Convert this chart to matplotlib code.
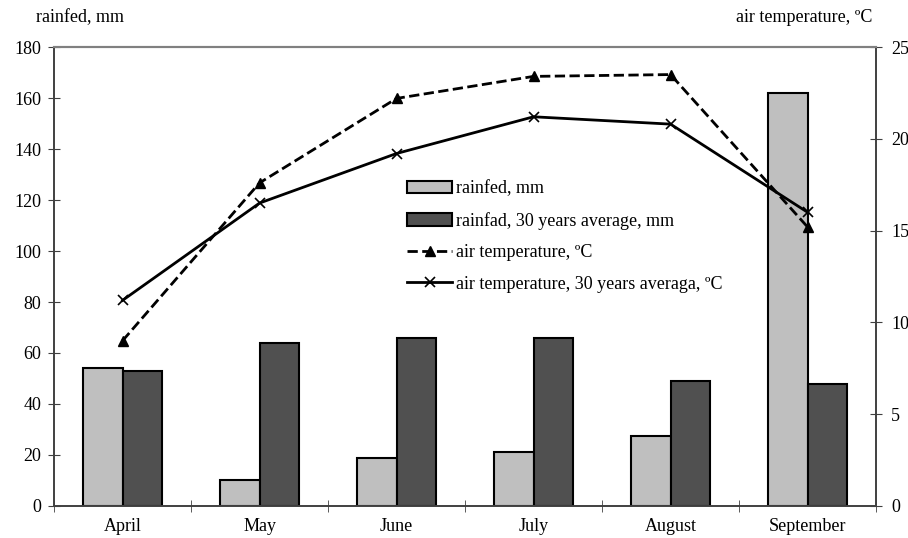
import matplotlib.pyplot as plt
import numpy as np

plt.rcParams['font.family'] = ['Liberation Serif', 'DejaVu Serif']
plt.rcParams['font.size'] = 13

months = ['April', 'May', 'June', 'July', 'August', 'September']
rain = [54, 10, 19, 21, 27.5, 162]
rain_avg = [53, 64, 66, 66, 49, 48]
temp = [9.0, 17.6, 22.2, 23.4, 23.5, 15.2]
temp_avg = [11.2, 16.5, 19.2, 21.2, 20.8, 16.0]

fig = plt.figure(figsize=(9.08, 5.38), dpi=100)
ax = fig.add_axes([0.0595, 0.0595, 0.9053, 0.8531])
ax2 = ax.twinx()

x = np.arange(len(months))
w = 0.285
b1 = ax.bar(x - w/2, rain, w, color='#bfbfbf', edgecolor='black', linewidth=1.5,
            label='rainfed, mm')
b2 = ax.bar(x + w/2, rain_avg, w, color='#505050', edgecolor='black', linewidth=1.5,
            label='rainfad, 30 years average, mm')

l1, = ax2.plot(x, temp, color='black', ls='--', lw=2, marker='^', ms=7,
               label='air temperature, ºC')
l2, = ax2.plot(x, temp_avg, color='black', ls='-', lw=2, marker='x', ms=7, mew=1.2,
               label='air temperature, 30 years averaga, ºC')

ax.set_xlim(-0.5, len(months) - 0.5)
ax.set_ylim(0, 180)
ax.set_yticks(range(0, 181, 20))
ax2.set_ylim(0, 25)
ax2.set_yticks(range(0, 26, 5))

ax.set_xticks(x)
ax.set_xticklabels(months)
ax.set_xticks(np.arange(-0.5, len(months)), minor=True)
ax.tick_params(axis='x', which='major', length=0, pad=9)
ax.tick_params(axis='x', which='minor', length=8, direction='inout', color='#404040')
ax.tick_params(axis='y', length=8, direction='inout', color='#404040', pad=5)
ax2.tick_params(axis='y', length=8, direction='inout', color='#404040', pad=7)

for a in (ax, ax2):
    a.spines['top'].set_color('#808080')
    a.spines['top'].set_linewidth(1.5)
    a.spines['left'].set_color('#404040')
    a.spines['right'].set_color('#404040')
    a.spines['bottom'].set_color('#404040')
    for s in a.spines.values():
        if s is not a.spines['top']:
            s.set_linewidth(1.2)

fig.text(0.04, 0.968, 'rainfed, mm', fontsize=13, va='center')
fig.text(0.961, 0.968, 'air temperature, ºC', fontsize=13, va='center', ha='right')

ax2.legend([b1, b2, l1, l2], [h.get_label() for h in (b1, b2, l1, l2)],
           loc='upper left', bbox_to_anchor=(0.41, 0.745), frameon=False,
           handlelength=2.5, handletextpad=0.2, labelspacing=0.8, fontsize=13)

fig.savefig('out.png', dpi=100)
